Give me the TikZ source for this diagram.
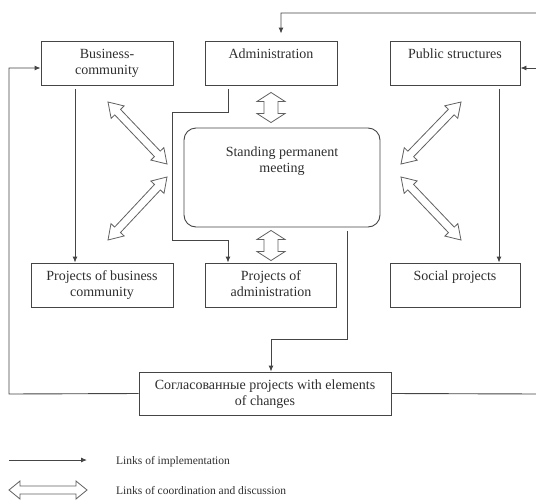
\documentclass[tikz,border=0pt]{standalone}
\usepackage{fontspec}
\setmainfont{Liberation Serif}
\usetikzlibrary{calc,arrows.meta}
\definecolor{linecol}{gray}{0.27}
\definecolor{textcol}{gray}{0.18}
\tikzset{
	box/.style={draw=linecol, line width=0.9pt, minimum height=44pt, inner sep=0pt},
	boxtext/.style={font=\fontsize{14}{16}\selectfont, text=textcol, align=center, anchor=north, inner sep=0pt},
	legtext/.style={font=\fontsize{11.5}{13}\selectfont, text=textcol, anchor=base west, inner sep=0pt},
	impl/.style={draw=linecol, line width=0.9pt, -{Latex[length=6pt,width=5pt]}},
	hollow/.style={draw=linecol!85, line width=0.8pt, fill=white, line join=miter}
}
% block double arrow: from, to, head length, half head, half shaft
\newcommand{\hollowlink}[5]{%
	\draw[hollow] (#1)
		-- ($(#1)!#3!(#2)!#4!90:(#2)$)
		-- ($(#1)!#3!(#2)!#5!90:(#2)$)
		-- ($(#2)!#3!(#1)!#5!-90:(#1)$)
		-- ($(#2)!#3!(#1)!#4!-90:(#1)$)
		-- (#2)
		-- ($(#2)!#3!(#1)!#4!90:(#1)$)
		-- ($(#2)!#3!(#1)!#5!90:(#1)$)
		-- ($(#1)!#3!(#2)!#5!-90:(#2)$)
		-- ($(#1)!#3!(#2)!#4!-90:(#2)$)
		-- cycle;
}

\begin{document}
\begin{tikzpicture}[x=1pt,y=-1pt]
	\useasboundingbox (0,0) rectangle (536,501);

	% boxes
	\node[box, minimum width=132pt] (bc)   at (107,63) {};
	\node[box, minimum width=132pt] (adm)  at (271,63) {};
	\node[box, minimum width=130pt] (pub)  at (455,63) {};
	\node[box, minimum width=142pt] (pbc)  at (102,285) {};
	\node[box, minimum width=131pt] (padm) at (271,285) {};
	\node[box, minimum width=130pt] (soc)  at (455,285) {};
	\node[box, minimum width=196pt, minimum height=99pt, rounded corners=12pt] (meet) at (282,177.5) {};
	\node[box, minimum width=252pt, minimum height=43pt] (agr) at (265,393.5) {};

	% texts
	\node[boxtext] (bc-t)   at ($(bc.north)+(0,8)$)   {Business-\\community};
	\node[boxtext] (adm-t)  at ($(adm.north)+(0,8)$)  {Administration};
	\node[boxtext] (pub-t)  at ($(pub.north)+(0,8)$)  {Public structures};
	\node[boxtext] (pbc-t)  at ($(pbc.north)+(0,8)$)  {Projects of business\\community};
	\node[boxtext] (padm-t) at ($(padm.north)+(0,8)$) {Projects of\\administration};
	\node[boxtext] (soc-t)  at ($(soc.north)+(0,8)$)  {Social projects};
	\node[boxtext] (meet-t) at ($(meet.north)+(0,19)$) {Standing permanent\\meeting};
	\node[boxtext] (agr-t)  at ($(agr.north)+(0,8.5)$) {Согласованные projects with elements\\of changes};

	% links of implementation
	\coordinate (bcout)  at ($(bc.south)+(-32,4)$);
	\coordinate (pubout) at ($(pub.south)+(44,4)$);
	\draw[impl] (bcout) -- (bcout |- pbc.north);
	\draw[impl] (pubout) -- (pubout |- soc.north);

	\coordinate (a1) at (228,112);
	\coordinate (a2) at (172,112);
	\coordinate (a3) at (172,240);
	\coordinate (a4) at (228,240);
	\draw[impl] ($(adm.south)+(-43,4)$) -- (a1) -- (a2) -- (a3) -- (a4) -- (a4 |- padm.north);

	\coordinate (m1) at (271,339);
	\draw[impl] ($(meet.south)+(65,4)$) |- (m1) -- (m1 |- agr.north);

	\coordinate (lb) at (9,394);
	\draw[impl] (agr.west) -- (lb) |- ($(bc.west)+(0,5)$);

	\coordinate (rb) at (538,394);
	\coordinate (rt) at (538,13);
	\coordinate (pubin) at ($(pub.east)+(0,5)$);
	\draw[impl, shorten >=7pt] (agr.east) -- (rb) -- (rt) -| ($(adm.north)+(10,0)$);
	\draw[impl] (pubin -| rt) -- (pubin);

	% links of coordination
	\coordinate (v1a) at ($(adm.south)+(0,7)$);
	\coordinate (v1b) at ($(adm.south |- meet.north)+(0,-5)$);
	\coordinate (v2a) at ($(padm.north |- meet.south)+(0,3)$);
	\coordinate (v2b) at ($(padm.north)+(0,-2)$);
	\coordinate (d1a) at (108,102);
	\coordinate (d1b) at (167,164);
	\coordinate (d2a) at (167,177);
	\coordinate (d2b) at (108,240);
	\coordinate (d3a) at (461,102);
	\coordinate (d3b) at (401,164);
	\coordinate (d4a) at (401,177);
	\coordinate (d4b) at (461,240);
	\hollowlink{v1a}{v1b}{9pt}{14pt}{7pt}
	\hollowlink{v2a}{v2b}{9pt}{14pt}{7pt}
	\hollowlink{d1a}{d1b}{14pt}{9pt}{4pt}
	\hollowlink{d2a}{d2b}{14pt}{9pt}{4pt}
	\hollowlink{d3a}{d3b}{14pt}{9pt}{4pt}
	\hollowlink{d4a}{d4b}{14pt}{9pt}{4pt}

	% legend
	\coordinate (li1a) at (9,460);
	\coordinate (li1b) at (87,460);
	\coordinate (li2a) at (9,490);
	\coordinate (li2b) at (87,490);
	\draw[impl] (li1a) -- (li1b);
	\hollowlink{li2a}{li2b}{11pt}{9pt}{4pt}
	\node[legtext] (leg1) at (116,464) {Links of implementation};
	\node[legtext] (leg2) at (116,494) {Links of coordination and discussion};
\end{tikzpicture}
\end{document}
